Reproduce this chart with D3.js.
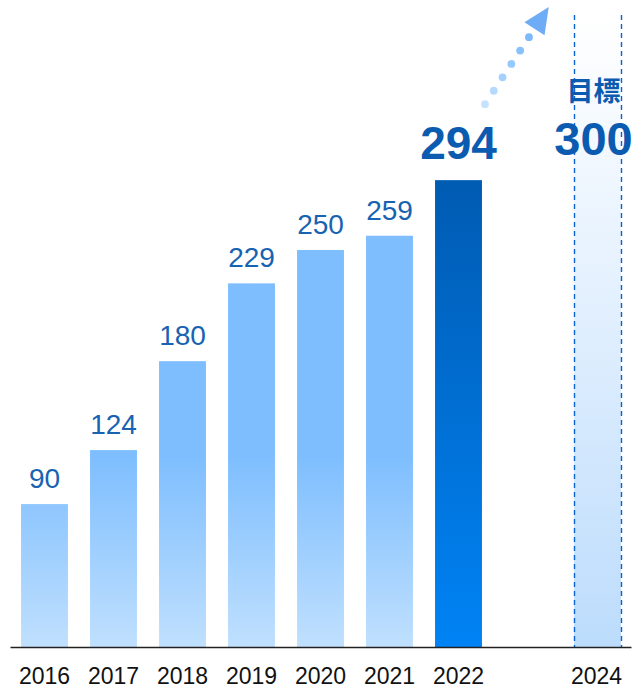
<!DOCTYPE html>
<html>
<head>
<meta charset="utf-8">
<script src="https://cdn.jsdelivr.net/npm/d3@7/dist/d3.min.js"></script>
<style>
  html, body { margin: 0; padding: 0; background: #fff; }
  svg { display: block; font-family: "Liberation Sans", Arial, sans-serif; }
</style>
</head>
<body>
<svg id="chart" width="636" height="689"></svg>
<script>
// Yearly results and target
const years = ["2016", "2017", "2018", "2019", "2020", "2021", "2022", "2023", "2024"];
const tickYears = ["2016", "2017", "2018", "2019", "2020", "2021", "2022", "2024"];
const actualYears = ["2016", "2017", "2018", "2019", "2020", "2021", "2022"];
const actualValues = [90, 124, 180, 229, 250, 259, 294];
const targetYear = "2024";
const targetValue = 300;
const targetLabel = "目標";
const yMax = 398;

const svg = d3.select("#chart");
const defs = svg.append("defs");

const x = d3.scaleBand().domain(years).range([10, 631]).paddingInner(0.32).paddingOuter(0.16);
const y = d3.scaleLinear().domain([0, yMax]).range([647, 15]);

// Gradients
const gPast = defs.append("linearGradient").attr("id", "gPast")
  .attr("gradientUnits", "userSpaceOnUse").attr("x1", 0).attr("x2", 0)
  .attr("y1", y(0)).attr("y2", y(120));
gPast.append("stop").attr("offset", 0).attr("stop-color", "#c0e0fe");
gPast.append("stop").attr("offset", 1).attr("stop-color", "#7ebefe");

const gLast = defs.append("linearGradient").attr("id", "gLast")
  .attr("x1", 0).attr("x2", 0).attr("y1", 1).attr("y2", 0);
gLast.append("stop").attr("offset", 0).attr("stop-color", "#0083f5");
gLast.append("stop").attr("offset", 1).attr("stop-color", "#005bb2");

const gTarget = defs.append("linearGradient").attr("id", "gTarget")
  .attr("x1", 0).attr("x2", 0).attr("y1", 1).attr("y2", 0);
gTarget.append("stop").attr("offset", 0).attr("stop-color", "#bcdcfc");
gTarget.append("stop").attr("offset", 0.55).attr("stop-color", "#e3f0fe");
gTarget.append("stop").attr("offset", 1).attr("stop-color", "#ffffff");

const data = actualYears.map((yr, i) => ({ year: yr, value: actualValues[i], last: i === actualYears.length - 1 }));

// Target band
const tx = x(targetYear) + 1, tw = x.bandwidth();
svg.append("rect")
  .attr("x", tx).attr("y", y(yMax)).attr("width", tw).attr("height", y(0) - y(yMax))
  .attr("fill", "url(#gTarget)");
[tx, tx + tw].forEach(px => {
  svg.append("line")
    .attr("x1", Math.round(px) + 0.5).attr("x2", Math.round(px) + 0.5)
    .attr("y1", y(yMax)).attr("y2", y(0))
    .attr("stroke", "#0a63d2").attr("stroke-width", 1.4)
    .attr("stroke-dasharray", "5,4");
});

// Bars
svg.selectAll("rect.bar").data(data).join("rect")
  .attr("class", "bar")
  .attr("x", d => x(d.year))
  .attr("y", d => y(d.value))
  .attr("width", x.bandwidth())
  .attr("height", d => y(0) - y(d.value))
  .attr("fill", d => d.last ? "url(#gLast)" : "url(#gPast)");

// Value labels
svg.selectAll("text.val").data(data).join("text")
  .attr("class", "val")
  .attr("x", d => x(d.year) + x.bandwidth() / 2)
  .attr("y", d => y(d.value) - (d.last ? 21 : 16))
  .attr("text-anchor", "middle")
  .attr("fill", d => d.last ? "#0b5bb0" : "#1763b2")
  .attr("font-size", d => d.last ? 46 : 28)
  .attr("font-weight", d => d.last ? "bold" : "normal")
  .text(d => d.value);

// Target labels
const tcx = tx + tw / 2 - 4;
svg.append("text")
  .attr("x", tcx).attr("y", 101)
  .attr("text-anchor", "middle").attr("fill", "#0b5bb0")
  .attr("font-size", 27).attr("font-weight", "bold")
  .attr("font-family", "'Noto Sans CJK JP', sans-serif")
  .text(targetLabel);
svg.append("text")
  .attr("x", tcx).attr("y", 155)
  .attr("text-anchor", "middle").attr("fill", "#0b5bb0")
  .attr("font-size", 47).attr("font-weight", "bold")
  .text(targetValue);

// Dotted rising arrow above the latest bar
const last = data[data.length - 1];
const ax0 = x(last.year) + x.bandwidth() + 3, ay0 = y(last.value) - 76;
const dir = [44 / 80, -67 / 80];
const dotColors = ["#c6e2ff", "#b6daff", "#a6d1ff", "#97c9ff", "#89c1fd", "#7db9fb"];
dotColors.forEach((c, i) => {
  const s = i * 16;
  svg.append("circle")
    .attr("cx", ax0 + dir[0] * s).attr("cy", ay0 + dir[1] * s)
    .attr("r", 3.9).attr("fill", c);
});
const tip = [ax0 + dir[0] * 116, ay0 + dir[1] * 116];
const baseC = [ax0 + dir[0] * 90, ay0 + dir[1] * 90];
const perp = [-dir[1], dir[0]];
svg.append("path")
  .attr("d", `M${tip[0]},${tip[1]} L${baseC[0] + perp[0] * 12},${baseC[1] + perp[1] * 12} L${baseC[0] - perp[0] * 12},${baseC[1] - perp[1] * 12} Z`)
  .attr("fill", "#6eacf6");

// Axis
const axis = svg.append("g")
  .attr("transform", `translate(0,${y(0)})`)
  .call(d3.axisBottom(x).tickValues(tickYears).tickSize(0).tickPadding(21));
axis.select(".domain").attr("stroke", "#222").attr("stroke-width", 1.6);
axis.selectAll("text")
  .attr("font-size", 23).attr("fill", "#111")
  .attr("font-family", "'Liberation Sans', Arial, sans-serif");
</script>
</body>
</html>
